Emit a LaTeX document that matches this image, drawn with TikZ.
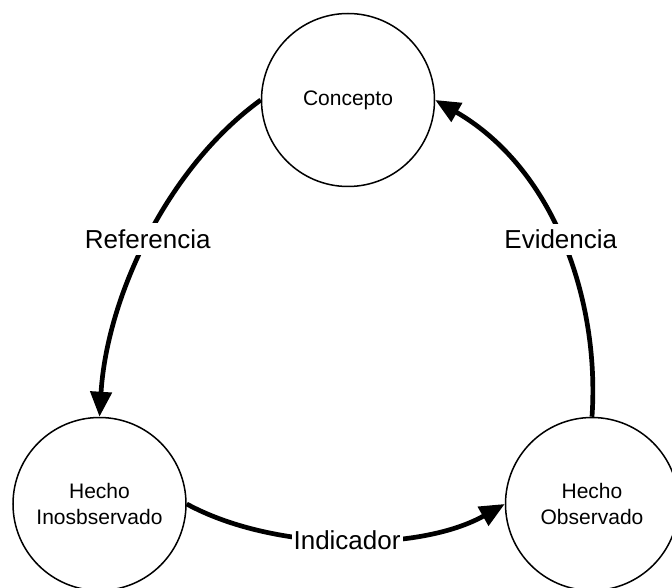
\documentclass[tikz,border=0pt]{standalone}
\usepackage{fontspec}
\setmainfont{Liberation Sans}
\usetikzlibrary{arrows.meta}
\begin{document}
\begin{tikzpicture}[x=1pt,y=-1pt,
  circ/.style={circle,draw=black,line width=1.5pt,minimum size=173pt,inner sep=0pt,align=center,font=\fontsize{21}{26}\selectfont},
  conn/.style={line width=4.7pt,-{Triangle[length=25pt,width=21pt]}},
  lbl/.style={fill=white,draw=none,inner xsep=2pt,inner ysep=6pt,font=\fontsize{26}{30}\selectfont}]
\useasboundingbox (0,0) rectangle (672,588);
\fill[white] (0,0) rectangle (672,588);
\node[circ] (concepto) at (348,100) {Concepto};
\node[circ] (inos) at (99.5,504) {Hecho\\Inosbservado};
\node[circ] (obs) at (592,504) {Hecho\\Observado};
\draw[conn] (concepto.west) .. controls (167,168) and (107,297) .. coordinate[pos=0.5] (mref) (inos.north);
\draw[conn] (obs.north) .. controls (600,298) and (553,168) .. coordinate[pos=0.5] (mevi) (concepto.east);
\draw[conn] (inos.east) .. controls (275,552) and (420,552) .. coordinate[pos=0.5] (mind) (obs.west);
\node[lbl] (lref) at (mref) {Referencia};
\node[lbl] (levi) at (mevi) {Evidencia};
\node[lbl] (lind) at (mind) {Indicador};
\end{tikzpicture}
\end{document}
